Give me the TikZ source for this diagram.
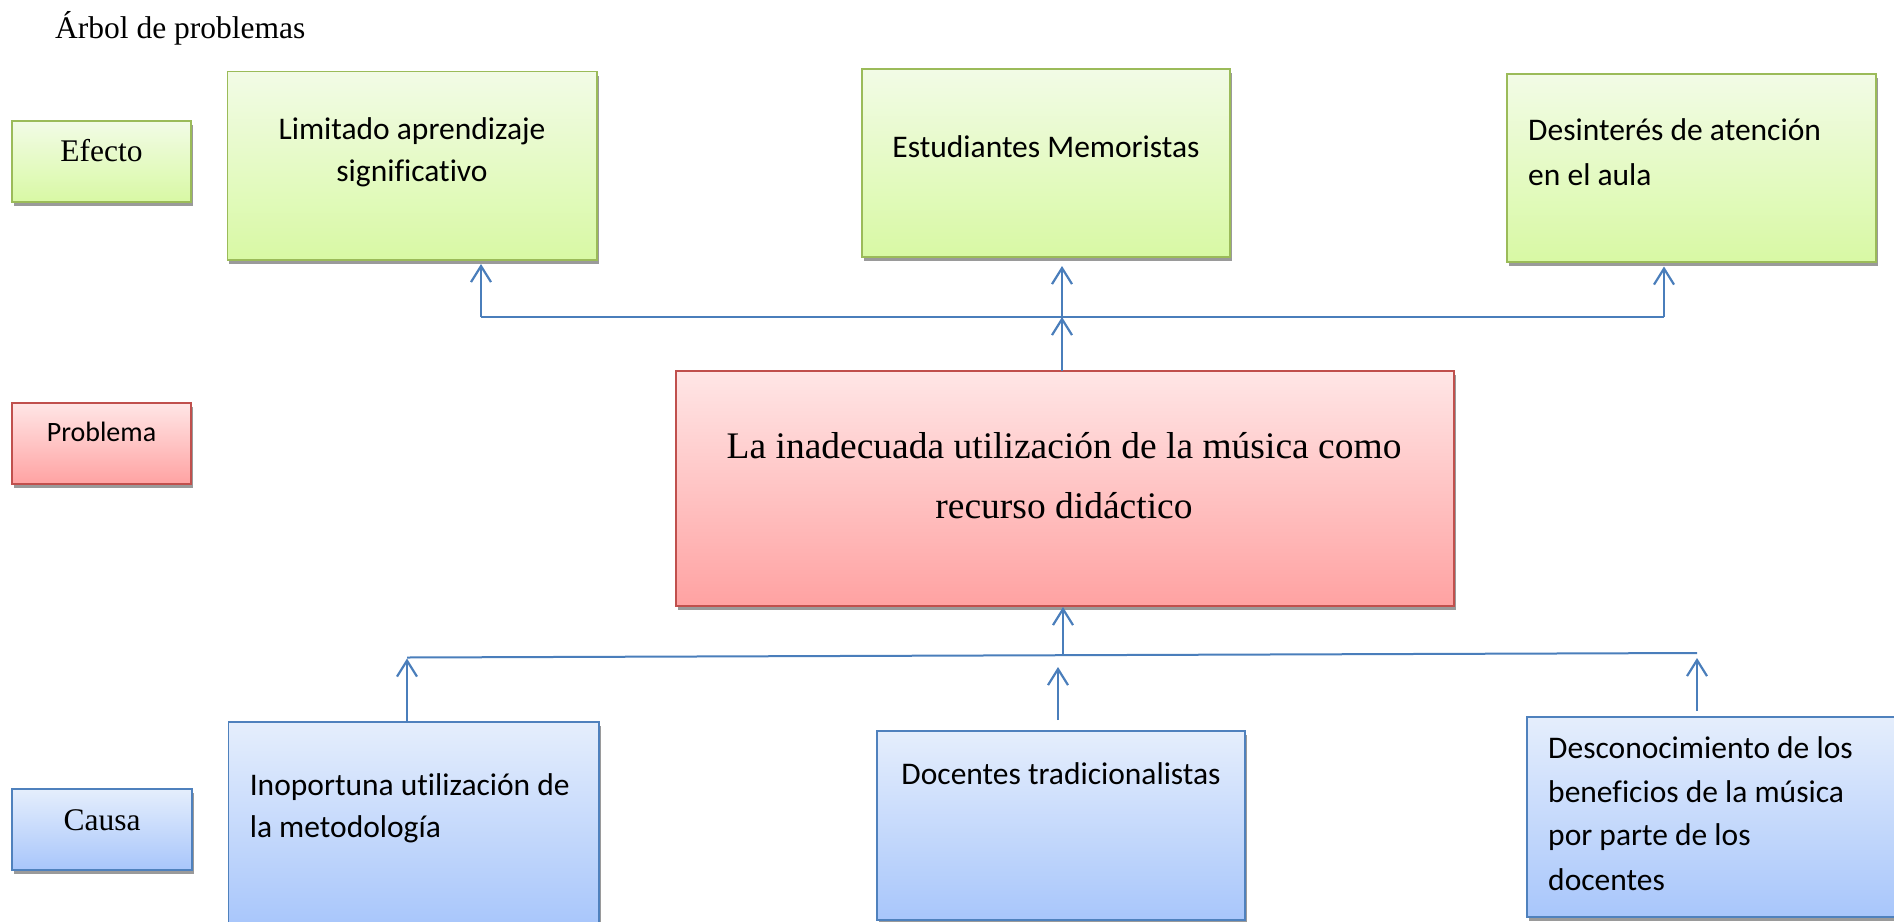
\documentclass[tikz,border=0pt]{standalone}
\usepackage{fontspec}
\setmainfont[Ligatures=NoCommon]{Liberation Serif}
\newfontfamily\calib[Ligatures=NoCommon]{Carlito}
\usetikzlibrary{arrows.meta,shadows}
\definecolor{arrowblue}{HTML}{4A7EBB}
\definecolor{gtop}{HTML}{F2FBE6}
\definecolor{gbot}{HTML}{D8F9A4}
\definecolor{gborder}{HTML}{9BBB59}
\definecolor{rtop}{HTML}{FFE6E6}
\definecolor{rbot}{HTML}{FFA2A2}
\definecolor{rborder}{HTML}{C0504D}
\definecolor{btop}{HTML}{E5EEFC}
\definecolor{bbot}{HTML}{A8C6FB}
\definecolor{bborder}{HTML}{4F81BD}
\definecolor{shadowgray}{HTML}{9A9A9A}
\begin{document}
\begin{tikzpicture}[x=1pt,y=-1pt,
  boxbase/.style={line width=1.8pt, inner sep=0pt, outer sep=0pt, anchor=north west,
    general shadow={fill=shadowgray, shadow xshift=1.5pt, shadow yshift=-4pt}},
  gbox/.style={boxbase, draw=gborder, top color=gtop, bottom color=gbot},
  rbox/.style={boxbase, draw=rborder, top color=rtop, bottom color=rbot},
  bbox/.style={boxbase, draw=bborder, top color=btop, bottom color=bbot},
  arr/.style={draw=arrowblue, line width=2.2pt, -{Straight Barb[length=16pt,width=20pt,line width=2.2pt]}},
  conn/.style={draw=arrowblue, line width=2pt},
  ctext/.style={font=\calib\fontsize{31.5}{42}\selectfont, inner sep=0pt, anchor=base},
  ltext/.style={ctext, anchor=base west},
  stext/.style={font=\fontsize{31.5}{40}\selectfont, inner sep=0pt, anchor=base},
  ptext/.style={font=\fontsize{37.5}{50}\selectfont, inner sep=0pt, anchor=base},
]
\path[use as bounding box] (0,0) rectangle (1894,921);
\clip (0,0) rectangle (1894,921);

% title
\node[stext, anchor=base west] (title) at (55,38) {Árbol de problemas};

% side labels
\node[gbox, minimum width=179pt, minimum height=81pt] (lefecto) at (12,121) {};
\node[stext] (tefecto) at (101.5,161) {Efecto};
\node[rbox, minimum width=179pt, minimum height=81pt] (lproblema) at (12,403) {};
\node[ctext, font=\calib\fontsize{28}{34}\selectfont] (tproblema) at (101.5,441.7) {Problema};
\node[bbox, minimum width=180pt, minimum height=81pt] (lcausa) at (12,789) {};
\node[stext] (tcausa) at (102,830) {Causa};

% effect boxes
\node[gbox, minimum width=369.5pt, minimum height=188.5pt] (e1) at (227.5,71.5) {};
\node[ctext] (e1a) at (412,139) {Limitado aprendizaje};
\node[ctext] (e1b) at (412,181.7) {significativo};
\node[gbox, minimum width=368pt, minimum height=188pt] (e2) at (862,69) {};
\node[ctext] (e2a) at (1046,157.7) {Estudiantes Memoristas};
\node[gbox, minimum width=369pt, minimum height=188pt] (e3) at (1507,74) {};
\node[ltext] (e3a) at (1528,140.7) {Desinterés de atención};
\node[ltext] (e3b) at (1528,185) {en el aula};

% problem box
\node[rbox, minimum width=778pt, minimum height=235pt] (p) at (676,371) {};
\node[ptext] (pa) at (1064,458) {La inadecuada utilización de la música como};
\node[ptext] (pb) at (1064,518) {recurso didáctico};

% cause boxes
\node[bbox, minimum width=370.5pt, minimum height=204pt] (c1) at (228.5,722) {};
\node[ltext] (c1a) at (249.6,795) {Inoportuna utilización de};
\node[ltext] (c1b) at (249.6,837) {la metodología};
\node[bbox, minimum width=368pt, minimum height=189pt] (c2) at (877,731) {};
\node[ctext] (c2a) at (1061,784) {Docentes tradicionalistas};
\node[bbox, minimum width=370pt, minimum height=200pt] (c3) at (1527,717) {};
\node[ltext] (c3a) at (1548,758) {Desconocimiento de los};
\node[ltext] (c3b) at (1548,802.5) {beneficios de la música};
\node[ltext] (c3c) at (1548,845) {por parte de los};
\node[ltext] (c3d) at (1548,890.5) {docentes};

% top connectors
\coordinate (tj1) at (481,317);
\coordinate (tjm) at (1062,317);
\coordinate (tj3) at (1664,317);
\draw[conn] (tj1) -- (tj3);
\draw[arr, shorten >=4pt] (tj1) -- (tj1 |- e1.south);
\draw[arr, shorten >=9pt] (tjm) -- (tjm |- e2.south);
\draw[arr, shorten >=4.5pt] (tj3) -- (tj3 |- e3.south);
\draw[arr] (tjm |- p.north) -- (tjm);

% bottom connectors
\coordinate (bj1) at (407,657.5);
\coordinate (bjm) at (1063,655.2);
\coordinate (bj3) at (1697,653);
\coordinate (cb2) at (1058,720);
\coordinate (ct2) at (1058,667);
\draw[conn] (bj1) -- (bj3);
\draw[arr, shorten >=1pt] (bjm) -- (bjm |- p.south);
\draw[arr, shorten >=1pt] (bj1 |- c1.north) -- (bj1);
\draw[arr] (cb2) -- (ct2);
\draw[arr, shorten <=6pt, shorten >=5pt] (bj3 |- c3.north) -- (bj3);
\end{tikzpicture}
\end{document}
